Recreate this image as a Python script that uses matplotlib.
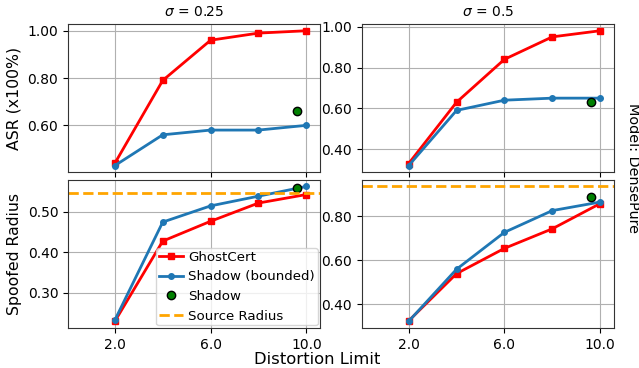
import matplotlib.pyplot as plt
from matplotlib.ticker import FormatStrFormatter

# distortion limits
dist = [2, 4, 6, 8, 10]
shadow_x = 9.6

# sigma = 0.25
asr_ghost_025 = [0.44, 0.79, 0.96, 0.99, 1.00]
asr_bounded_025 = [0.43, 0.56, 0.58, 0.58, 0.60]
asr_shadow_025 = 0.66
rad_ghost_025 = [0.230, 0.428, 0.477, 0.522, 0.543]
rad_bounded_025 = [0.233, 0.475, 0.515, 0.539, 0.563]
rad_shadow_025 = 0.560
src_rad_025 = 0.548

# sigma = 0.5
asr_ghost_05 = [0.33, 0.63, 0.84, 0.95, 0.98]
asr_bounded_05 = [0.32, 0.59, 0.64, 0.65, 0.65]
asr_shadow_05 = 0.63
rad_ghost_05 = [0.324, 0.539, 0.654, 0.743, 0.858]
rad_bounded_05 = [0.322, 0.559, 0.727, 0.826, 0.865]
rad_shadow_05 = 0.886
src_rad_05 = 0.936

titles = [r'$\sigma$ = 0.25', r'$\sigma$ = 0.5']

fig, axes = plt.subplots(2, 2, figsize=(6.39, 3.68), dpi=100, sharex='col')
fig.subplots_adjust(left=68/639, right=614/639, top=1-24/368, bottom=1-328/368,
                    wspace=0.165, hspace=0.05)

def draw(ax, ghost, bounded, shadow, src=None):
    ax.plot(dist, ghost, color='red', marker='s', markersize=4.5, linewidth=2, label='GhostCert')
    ax.plot(dist, bounded, color='tab:blue', marker='o', markersize=4, linewidth=2, label='Shadow (bounded)')
    ax.plot([shadow_x], [shadow], linestyle='none', marker='o', markersize=6,
            markerfacecolor='green', markeredgecolor='black', label='Shadow')
    if src is not None:
        ax.axhline(src, color='orange', linestyle='--', linewidth=2, label='Source Radius')
    ax.grid(True)
    ax.set_axisbelow(True)
    ax.yaxis.set_major_formatter(FormatStrFormatter('%.2f'))
    ax.xaxis.set_major_formatter(FormatStrFormatter('%.1f'))
    ax.tick_params(labelsize=10)
    for s in ax.spines.values():
        s.set_color('#333333')

draw(axes[0, 0], asr_ghost_025, asr_bounded_025, asr_shadow_025)
draw(axes[0, 1], asr_ghost_05, asr_bounded_05, asr_shadow_05)
draw(axes[1, 0], rad_ghost_025, rad_bounded_025, rad_shadow_025, src_rad_025)
draw(axes[1, 1], rad_ghost_05, rad_bounded_05, rad_shadow_05, src_rad_05)

for ax in axes.flat:
    ax.set_xlim(0.04, 10.58)
    ax.set_xticks([2, 6, 10])

axes[0, 0].set_yticks([0.6, 0.8, 1.0])
axes[0, 1].set_yticks([0.4, 0.6, 0.8, 1.0])
axes[1, 0].set_yticks([0.3, 0.4, 0.5])
axes[1, 1].set_yticks([0.4, 0.6, 0.8])

for ax, t in zip(axes[0], titles):
    ax.set_title(t, fontsize=10)

axes[0, 0].set_ylabel('ASR (x100%)', fontsize=11.3, labelpad=4)
axes[1, 0].set_ylabel('Spoofed Radius', fontsize=11.3, labelpad=4)
fig.text(0.497, 0.004, 'Distortion Limit', ha='center', va='bottom', fontsize=11.8)
fig.text(0.99, 1-168/368, 'Model: DensePure', rotation=270, ha='center', va='center', fontsize=10.4)

axes[1, 0].legend(loc='lower right', fontsize=9.6, handlelength=1.8, borderpad=0.2,
                  handletextpad=0.4, borderaxespad=0.2)

fig.savefig('out.png', dpi=100)
